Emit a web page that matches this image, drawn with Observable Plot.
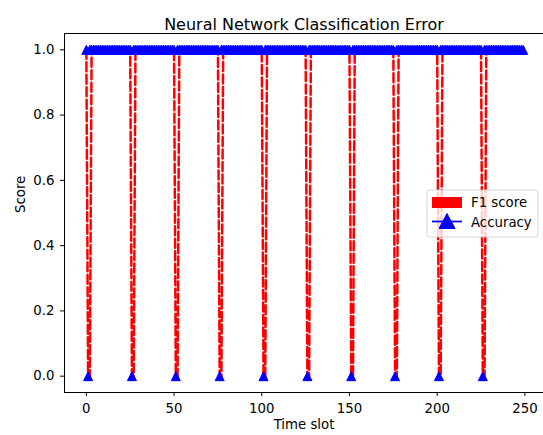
<!DOCTYPE html>
<html><head><meta charset="utf-8">
<script src="https://cdn.jsdelivr.net/npm/d3@7"></script>
<script src="https://cdn.jsdelivr.net/npm/@observablehq/plot@0.6"></script>
<style>
html,body{margin:0;padding:0;background:#fff;overflow:hidden;}
#chart{position:relative;width:543px;height:435px;}
svg{display:block;}
</style></head><body><div id="chart"></div>
<script>
// ---- data ----
const timeSlots = d3.range(0, 250);                 // slots 0 … 249
const accuracyDropSlots = [1, 26, 51, 76, 101, 126, 151, 176, 201, 226];
const f1DropSlots = [1, 2, 26, 27, 51, 52, 76, 77, 101, 102, 126, 127, 151, 152, 176, 177, 201, 202, 226, 227];
const accuracyValues = timeSlots.map(t => accuracyDropSlots.includes(t) ? 0 : 1);
const f1Values = timeSlots.map(t => f1DropSlots.includes(t) ? 0 : 1);
const xTicks = [0, 50, 100, 150, 200, 250];
const yTicks = [0.0, 0.2, 0.4, 0.6, 0.8, 1.0];
const seriesNames = ["F1 score", "Accuracy"];
const titleText = "Neural Network Classification Error";
const xLabel = "Time slot";
const yLabel = "Score";

const rows = timeSlots.map((t, i) => ({slot: t, f1: f1Values[i], acc: accuracyValues[i]}));

const BLUE = "#0000ff", RED = "#ff0000";
const FONT = "DejaVu Sans, sans-serif";
const FS = 13.3;

// matplotlib-like "^" marker (width == height)
const mplTriangle = {
  draw(ctx, size) {
    const r = Math.sqrt(size / Math.PI);
    ctx.moveTo(0, -r); ctx.lineTo(r, r); ctx.lineTo(-r, r); ctx.closePath();
  }
};

const xDomain = [-12.45, 260.6];
const yDomain = [-0.05, 1.05];

const plot = Plot.plot({
  width: 543,
  height: 435,
  marginLeft: 64,
  marginRight: 0,
  marginTop: 33,
  marginBottom: 43,
  style: {fontFamily: FONT, fontSize: FS + "px", color: "black", background: "white"},
  x: {domain: xDomain, ticks: xTicks, tickSize: 4, tickPadding: 7, tickFormat: d => String(d), label: null},
  y: {domain: yDomain, ticks: yTicks, tickSize: 4, tickPadding: 6, tickFormat: d3.format(".1f"), label: null},
  marks: [
    Plot.line(rows, {x: "slot", y: "acc", stroke: BLUE, strokeWidth: 1.5}),
    Plot.line(rows, {x: "slot", y: "f1", stroke: "white", strokeWidth: 5}),
    Plot.line(rows, {x: "slot", y: "f1", stroke: RED, strokeWidth: 2.5, strokeDasharray: "9,3.5"}),
    Plot.dot(rows, {x: "slot", y: "acc", symbol: mplTriangle, r: 4.5, fill: BLUE, stroke: BLUE, strokeWidth: 1}),
    Plot.ruleY([yDomain[0], yDomain[1]], {stroke: "black", strokeWidth: 1}),
    Plot.ruleX([xDomain[0]], {stroke: "black", strokeWidth: 1}),
    Plot.text([titleText], {frameAnchor: "top", dy: -14.6, text: d => d, fontSize: 16, fill: "black"}),
    Plot.text([xLabel], {frameAnchor: "bottom", dy: 36, text: d => d, fontSize: FS, fill: "black"}),
    Plot.text([yLabel], {frameAnchor: "left", dx: -43.3, rotate: -90, text: d => d, fontSize: FS, fill: "black"})
  ]
});

// legend (upper right, semi-transparent box)
const svg = d3.select(plot);
const lg = svg.append("g").attr("font-family", FONT).attr("font-size", FS + "px").attr("text-anchor", "start");
lg.append("rect").attr("x", 427).attr("y", 190).attr("width", 111).attr("height", 47)
  .attr("rx", 3).attr("fill", "white").attr("fill-opacity", 0.8)
  .attr("stroke", "#cccccc").attr("stroke-opacity", 0.8).attr("stroke-width", 1);
lg.append("rect").attr("x", 432).attr("y", 197).attr("width", 30).attr("height", 11).attr("fill", RED);
lg.append("text").attr("x", 471).attr("y", 206.5).attr("fill", "black").text(seriesNames[0]);
lg.append("line").attr("x1", 432).attr("x2", 462).attr("y1", 221.5).attr("y2", 221.5)
  .attr("stroke", BLUE).attr("stroke-width", 1.77);
lg.append("path").attr("d", "M447,213.5L455,228.5L439,228.5Z").attr("fill", BLUE).attr("stroke", BLUE).attr("stroke-width", 1);
lg.append("text").attr("x", 471).attr("y", 226.5).attr("fill", "black").text(seriesNames[1]);

document.getElementById("chart").appendChild(plot);
</script>
</body></html>
